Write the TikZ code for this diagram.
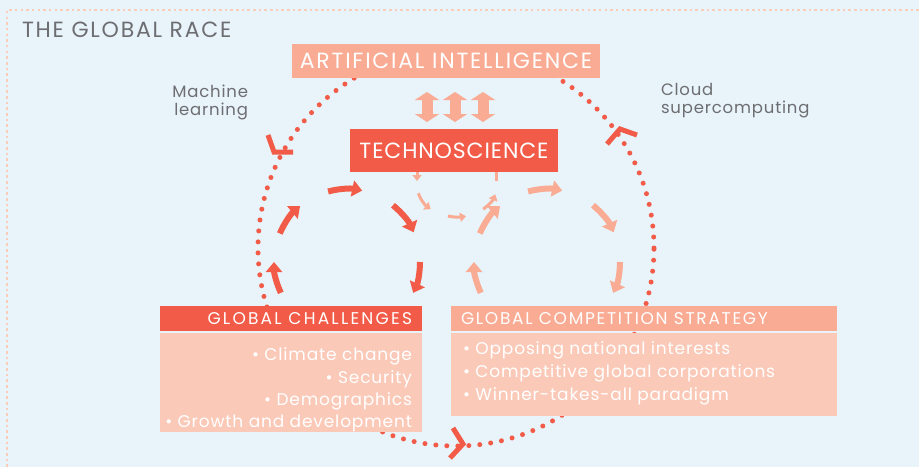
\documentclass[tikz,border=0pt]{standalone}
\usepackage{fontspec}
\setmainfont{Poppins}
\newfontfamily\lsA{Poppins}[LetterSpace=8]
\newfontfamily\lsB{Poppins}[LetterSpace=10]
\newfontfamily\lsE{Poppins}[LetterSpace=13]
\newfontfamily\lsC{Poppins}[LetterSpace=5]
\newfontfamily\lsD{Poppins}[LetterSpace=4]
\usetikzlibrary{arrows.meta,calc}
\definecolor{bg}{HTML}{E8F3FA}
\definecolor{dred}{HTML}{F15B47}
\definecolor{lsal}{HTML}{F9AB93}
\definecolor{vlsal}{HTML}{FBC9B8}
\definecolor{gtext}{HTML}{6D6E71}
\definecolor{bdot}{HTML}{FBCDB9}
\tikzset{
  boxnode/.style={inner sep=0pt, outer sep=0pt, anchor=north west},
  cycd/.style={dred, line width=6pt, -{Triangle[length=10pt,width=16pt]}},
  cycl/.style={lsal, line width=6pt, -{Triangle[length=10pt,width=16pt]}},
  smallarr/.style={lsal, line width=3pt, -{Triangle[length=6pt,width=9pt]}},
  dblarr/.style={lsal, line width=11pt, {Triangle[length=8pt,width=24pt]}-{Triangle[length=8pt,width=24pt]}},
  chev/.style={dred, line width=5pt, miter limit=10},
  bigdots/.style={dred, line width=5pt, line cap=round, dash pattern=on 0pt off 11pt},
  whitetxt/.style={text=white, inner sep=0pt, outer sep=0pt},
  graytxt/.style={text=gtext, inner sep=0pt, outer sep=0pt}
}
\begin{document}
\begin{tikzpicture}[x=1pt,y=1pt]
\fill[bg] (0,0) rectangle (919,-467);
\useasboundingbox (0,0) rectangle (919,-467);
% dotted frame
\draw[bdot, line width=2.6pt, dash pattern=on 2.6pt off 3.07pt] (919,-10) -- (7,-10) -- (7,-467);
\node[graytxt, anchor=base west, font=\lsA\fontsize{22}{24}\selectfont] (title) at (22,-37) {THE GLOBAL RACE};

% big dotted circle
\coordinate (cc) at (456,-248);
\draw[bigdots] (cc) circle[radius=198];
% chevrons
\coordinate (c1a) at (268,-135); \coordinate (c1v) at (274,-152); \coordinate (c1b) at (293,-152);
\draw[chev] (c1a) -- (c1v) -- (c1b);
\coordinate (c2a) at (607,-144); \coordinate (c2v) at (620,-129); \coordinate (c2b) at (637,-135);
\draw[chev] (c2a) -- (c2v) -- (c2b);
\coordinate (c3a) at (453,-428); \coordinate (c3v) at (463,-444); \coordinate (c3b) at (450,-458);
\draw[chev] (c3a) -- (c3v) -- (c3b);

% left cycle
\coordinate (lc) at (347,-262);
\foreach \a/\b in {205/180,157/130,105/78,51/24,0/-25}{
  \draw[cycd] ($(lc)+(\a:73)$) arc[start angle=\a, end angle=\b, radius=73];
}
% right cycle
\coordinate (rc) at (547,-262);
\foreach \a/\b in {205/180,157/130,105/78,51/24,0/-25}{
  \draw[cycl] ($(rc)+(\a:73)$) arc[start angle=\a, end angle=\b, radius=73];
}
% small cycle
\coordinate (sc) at (457,-185);
\foreach \a/\b in {195/229,257/283,311/343}{
  \draw[smallarr] ($(sc)+({40*cos(\a)},{32*sin(\a)})$) arc[start angle=\a, end angle=\b, x radius=40, y radius=32];
}

% boxes
\node[boxnode, fill=lsal, minimum width=308pt, minimum height=34pt, font=\lsA\fontsize{22}{24}\selectfont, text=white] (ai) at (292,-44) {ARTIFICIAL INTELLIGENCE};
\node[boxnode, fill=dred, minimum width=208pt, minimum height=43pt, font=\lsD\fontsize{22}{24}\selectfont, text=white] (tech) at (350,-129) {TECHNOSCIENCE};

\coordinate (s1) at ($(tech.south west)+(67,0)$);
\coordinate (s2) at ($(tech.south west)+(146,0)$);
\draw[smallarr] (s1) -- ++(0,-9);
\draw[lsal, line width=3pt] (s2) -- ++(0,-9);

\foreach \dx in {-28,0,28}{
  \draw[dblarr] ($(tech.north)+(\dx+1,37)$) -- ($(tech.north)+(\dx+1,7)$);
}

\node[boxnode, fill=dred, minimum width=262pt, minimum height=25pt] (chh) at (160,-306) {};
\node[whitetxt, anchor=east, font=\lsE\fontsize{17}{19}\selectfont] (chht) at ($(chh.east)+(-10,0)$) {GLOBAL CHALLENGES};
\node[boxnode, fill=vlsal, minimum width=262pt, minimum height=99pt] (chb) at (160,-333) {};
\node[whitetxt, anchor=north east, align=right, font=\lsC\fontsize{17}{22.3}\selectfont] (chbt) at ($(chb.north east)+(-10,-15)$)
  {• Climate change\\• Security\\• Demographics\\• Growth and development};

\node[boxnode, fill=lsal, minimum width=386pt, minimum height=25pt] (csh) at (451,-306) {};
\node[whitetxt, anchor=west, font=\lsB\fontsize{17}{19}\selectfont] (csht) at ($(csh.west)+(10,0)$) {GLOBAL COMPETITION STRATEGY};
\node[boxnode, fill=vlsal, minimum width=386pt, minimum height=83pt] (csb) at (451,-333) {};
\node[whitetxt, anchor=north west, align=left, font=\lsC\fontsize{17}{23}\selectfont] (csbt) at ($(csb.north west)+(12,-9)$)
  {• Opposing national interests\\• Competitive global corporations\\• Winner-takes-all paradigm};

\node[graytxt, anchor=north east, align=right, font=\lsC\fontsize{16.5}{18}\selectfont] (ml) at (248,-85) {Machine\\learning};
\node[graytxt, anchor=north west, align=left, font=\lsC\fontsize{16.5}{18}\selectfont] (cs) at (661,-83) {Cloud\\supercomputing};
\end{tikzpicture}
\end{document}
